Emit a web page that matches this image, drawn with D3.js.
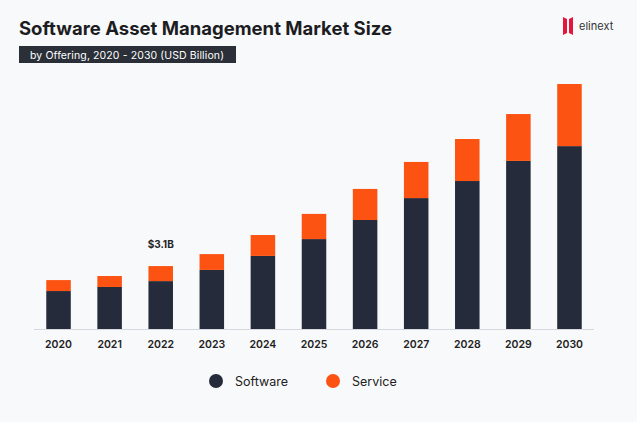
<!DOCTYPE html>
<html><head><meta charset="utf-8">
<script src="https://cdn.jsdelivr.net/npm/d3@7"></script>
<style>body{margin:0;background:#f8f9fb;}svg{display:block;font-family:Inter,"Noto Sans",sans-serif;}</style>
</head><body>
<svg width="637" height="422"></svg>
<script>
const years = ["2020","2021","2022","2023","2024","2025","2026","2027","2028","2029","2030"];
const software = [1.87,2.07,2.36,2.91,3.6,4.43,5.37,6.45,7.29,8.28,9.01];
const service = [0.54,0.54,0.74,0.78,1.03,1.24,1.53,1.78,2.07,2.31,3.06];

const svg = d3.select("svg");
svg.append("rect").attr("width",637).attr("height",422).attr("fill","#f8f9fb");

svg.append("text").attr("x",19).attr("y",35).attr("font-size",18.5).attr("font-weight",700)
  .attr("fill","#1c1d22").attr("textLength",373).text("Software Asset Management Market Size");
svg.append("rect").attr("x",19).attr("y",46).attr("width",217).attr("height",17).attr("fill","#2b2f38");
svg.append("text").attr("x",30).attr("y",58.5).attr("font-size",10.5).attr("fill","#fff")
  .attr("textLength",194).text("by Offering, 2020 - 2030 (USD Billion)");

// logo
svg.append("path").attr("d","M563,17 L567,19 L567,33 L563,35 Z M569,19 L573,17 L573,35 L569,33 Z").attr("fill","#e2173b");
svg.append("text").attr("x",579).attr("y",30).attr("font-size",11).attr("fill","#333").text("elinext");

const x = d3.scaleBand().domain(years).range([34,594]).paddingInner(0.52).paddingOuter(0.24);
const y = d3.scaleLinear().domain([0,12.07]).range([329,84]);

const g = svg.append("g");
g.selectAll(".sw").data(years).enter().append("rect")
  .attr("x",d=>x(d)).attr("width",x.bandwidth())
  .attr("y",(d,i)=>y(software[i])).attr("height",(d,i)=>y(0)-y(software[i])).attr("fill","#252b3a");
g.selectAll(".sv").data(years).enter().append("rect")
  .attr("x",d=>x(d)).attr("width",x.bandwidth())
  .attr("y",(d,i)=>y(software[i]+service[i])).attr("height",(d,i)=>y(software[i])-y(software[i]+service[i])).attr("fill","#fc5312");

svg.append("line").attr("x1",34).attr("x2",594).attr("y1",329.5).attr("y2",329.5).attr("stroke","#d5d8de");

const ax = svg.append("g").attr("transform","translate(0,329)")
  .call(d3.axisBottom(x).tickSize(0).tickPadding(12));
ax.select(".domain").remove();
ax.selectAll("text").attr("font-size",10.5).attr("font-weight",600).attr("fill","#222").attr("font-family","Inter,sans-serif");

svg.append("text").attr("x",x("2022")+x.bandwidth()/2).attr("y",y(software[2]+service[2])-18)
  .attr("text-anchor","middle").attr("font-size",10).attr("font-weight",700).attr("fill","#222").text("$3.1B");

const legend = [["Software","#252b3a",216],["Service","#fc5312",333]];
legend.forEach(([t,c,lx])=>{
  svg.append("circle").attr("cx",lx).attr("cy",381).attr("r",7).attr("fill",c);
  svg.append("text").attr("x",lx+19).attr("y",385.5).attr("font-size",12.5).attr("fill","#222").text(t);
});
</script>
</body></html>
